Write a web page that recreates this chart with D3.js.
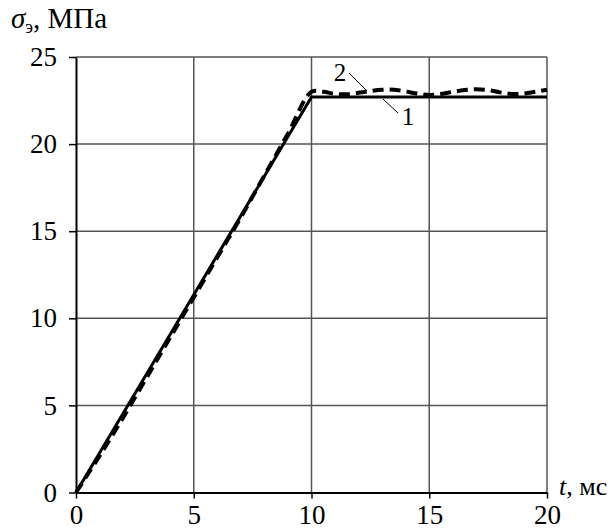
<!DOCTYPE html>
<html>
<head>
<meta charset="utf-8">
<script src="https://cdn.jsdelivr.net/npm/d3@7"></script>
</head>
<body style="margin:0">
<script>
const xTicks = [0, 5, 10, 15, 20];
const yTicks = [0, 5, 10, 15, 20, 25];

// curve 1: linear ramp then plateau
const t1 = [0, 10, 20];
const s1 = [0, 22.7, 22.7];

// curve 2: dashed, slight overshoot and oscillation
const t2 = [0, 1, 2, 3, 4, 5, 6, 7, 8, 9, 10, 10.5, 11, 11.5, 12, 12.5, 13, 13.5, 14, 14.5, 15, 15.5, 16, 16.5, 17, 17.5, 18, 18.5, 19, 19.5, 20];
const s2 = [0, 2.1, 4.3, 6.6, 8.9, 11.2, 13.5, 15.8, 18.2, 20.6, 23.0, 23.0, 22.88, 22.86, 22.95, 23.05, 23.12, 23.12, 23.02, 22.9, 22.82, 22.88, 23.0, 23.1, 23.15, 23.1, 22.97, 22.88, 22.9, 23.0, 23.12];

const FONT = 'Liberation Serif';
const width = 613, height = 530;
const svg = d3.select('body').append('svg')
  .attr('width', width)
  .attr('height', height)
  .attr('font-family', FONT);

const x = d3.scaleLinear().domain([0, 20]).range([76, 547]);
const y = d3.scaleLinear().domain([0, 25]).range([492.5, 57]);

// grid
svg.append('g').selectAll('line').data(xTicks.slice(1))
  .enter().append('line')
  .attr('x1', d => x(d)).attr('x2', d => x(d))
  .attr('y1', y(0)).attr('y2', y(25))
  .attr('stroke', '#555').attr('stroke-width', 1.5);
svg.append('g').selectAll('line').data(yTicks.slice(1))
  .enter().append('line')
  .attr('x1', x(0)).attr('x2', x(20))
  .attr('y1', d => y(d)).attr('y2', d => y(d))
  .attr('stroke', '#555').attr('stroke-width', 1.5);

// axes
const xAxis = svg.append('g')
  .attr('transform', 'translate(0,' + y(0) + ')')
  .call(d3.axisBottom(x).tickValues(xTicks).tickSize(6).tickPadding(6).tickSizeOuter(0));
const yAxis = svg.append('g')
  .attr('transform', 'translate(' + x(0) + ',0)')
  .call(d3.axisLeft(y).tickValues(yTicks).tickSize(7).tickPadding(12).tickSizeOuter(0));

[xAxis, yAxis].forEach(a => {
  a.attr('font-family', FONT).attr('font-size', 27);
  a.select('.domain').attr('stroke', '#000').attr('stroke-width', 2);
  a.selectAll('.tick line').attr('stroke', '#000').attr('stroke-width', 1.5);
  a.selectAll('text')
    .attr('font-family', FONT)
    .attr('font-size', 27)
    .attr('fill', '#000');
});

// lines
const line = d3.line()
  .x(d => x(d[0]))
  .y(d => y(d[1]));

svg.append('path')
  .datum(t1.map((t, i) => [t, s1[i]]))
  .attr('fill', 'none')
  .attr('stroke', '#000')
  .attr('stroke-width', 3)
  .attr('d', line);

svg.append('path')
  .datum(t2.map((t, i) => [t, s2[i]]))
  .attr('fill', 'none')
  .attr('stroke', '#000')
  .attr('stroke-width', 4)
  .attr('stroke-dasharray', '11,6')
  .attr('d', line.curve(d3.curveCatmullRom));

// curve labels with leaders
svg.append('line')
  .attr('x1', 349).attr('y1', 73).attr('x2', 367).attr('y2', 91)
  .attr('stroke', '#000').attr('stroke-width', 1);
svg.append('text').attr('x', 340).attr('y', 81)
  .attr('text-anchor', 'middle')
  .attr('font-family', FONT).attr('font-size', 25).text('2');

svg.append('line')
  .attr('x1', 383).attr('y1', 99).attr('x2', 398).attr('y2', 113)
  .attr('stroke', '#000').attr('stroke-width', 1);
svg.append('text').attr('x', 408).attr('y', 125)
  .attr('text-anchor', 'middle')
  .attr('font-family', FONT).attr('font-size', 25).text('1');

// axis titles
const yt = svg.append('text').attr('x', 11).attr('y', 28)
  .attr('font-family', FONT).attr('font-size', 29);
yt.append('tspan').attr('font-style', 'italic').text('σ');
yt.append('tspan').attr('dy', 5).attr('font-size', 18).text('э');
yt.append('tspan').attr('dy', -5).text(', МПа');

const xt = svg.append('text').attr('x', 559).attr('y', 495)
  .attr('font-family', FONT).attr('font-size', 26);
xt.append('tspan').attr('font-style', 'italic').text('t');
xt.append('tspan').text(', мс');
</script>
</body>
</html>
